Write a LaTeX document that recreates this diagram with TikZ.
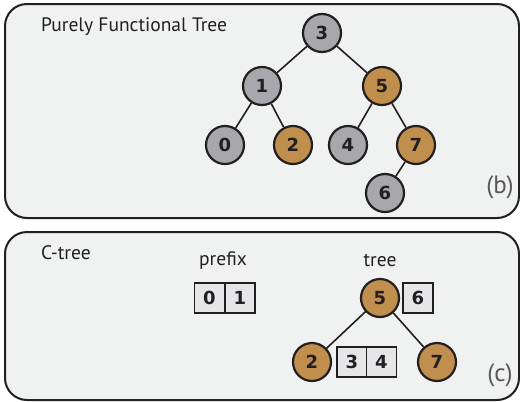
\documentclass[tikz,border=0pt]{standalone}
\usepackage{fontspec}
\setmainfont{PT Sans}
\newfontfamily\digitfont{DejaVu Sans}
\definecolor{panelbg}{HTML}{F0F1F1}
\definecolor{nodegray}{HTML}{A6A8AB}
\definecolor{nodegold}{HTML}{C08F4E}
\definecolor{cellbg}{HTML}{E5E6E7}
\definecolor{ink}{HTML}{231F20}
\tikzset{
  panel/.style={draw=ink, line width=2pt, fill=panelbg, rounded corners=22pt},
  tnode/.style={circle, draw=ink, line width=2.2pt, minimum size=38pt, inner sep=0pt, font=\digitfont\bfseries\fontsize{18}{18}\selectfont, text=ink},
  gnode/.style={tnode, fill=nodegray},
  onode/.style={tnode, fill=nodegold},
  cell/.style={draw=ink, line width=1.8pt, fill=cellbg, minimum width=30pt, minimum height=30pt, inner sep=0pt, font=\digitfont\bfseries\fontsize{18}{18}\selectfont, text=ink},
  edge/.style={draw=ink, line width=1.6pt},
  lbl/.style={font=\fontsize{19.5}{20}\selectfont, text=ink, inner sep=0pt},
  tag/.style={font=\fontsize{25}{26}\selectfont, text=ink!75, inner sep=0pt}
}
\begin{document}
\begin{tikzpicture}[x=1pt, y=-1pt]
\useasboundingbox (0,0) rectangle (520,402);
% panels
\path[panel] (5,4) rectangle (519,218);
\path[panel] (5,232) rectangle (519,400);
% panel b
\node[lbl, anchor=west] (tb) at (41,27) {Purely Functional Tree};
\node[tag] (b) at (500,187) {(b)};
\node[gnode] (n3) at (322,33) {3};
\node[gnode] (n1) at (262,86) {1};
\node[onode] (n5) at (382,86) {5};
\node[gnode] (n0) at (225,145) {0};
\node[onode] (n2) at (293,145) {2};
\node[gnode] (n4) at (348,145) {4};
\node[onode] (n7) at (416,145) {7};
\node[gnode] (n6) at (385,193) {6};
\draw[edge] (n3) -- (n1);
\draw[edge] (n3) -- (n5);
\draw[edge] (n1) -- (n0);
\draw[edge] (n1) -- (n2);
\draw[edge] (n5) -- (n4);
\draw[edge] (n5) -- (n7);
\draw[edge] (n7) -- (n6);
% panel c
\node[lbl, anchor=west] (tc) at (41,253) {C-tree};
\node[lbl] (pf) at (223,261) {prefix};
\node[lbl] (tr) at (380,261) {tree};
\node[tag] (c) at (500,375) {(c)};
\node[cell] (p0) at (209.5,298) {0};
\node[cell] (p1) at (240,298) {1};
\node[onode] (m5) at (380,298) {5};
\node[cell] (q6) at (418,298) {6};
\node[onode] (m2) at (312,362) {2};
\node[cell] (q3) at (352,362) {3};
\node[cell] (q4) at (381.5,362) {4};
\node[onode] (m7) at (437,362) {7};
\draw[edge] (m5) -- (m2);
\draw[edge] (m5) -- (m7);
\end{tikzpicture}
\end{document}
